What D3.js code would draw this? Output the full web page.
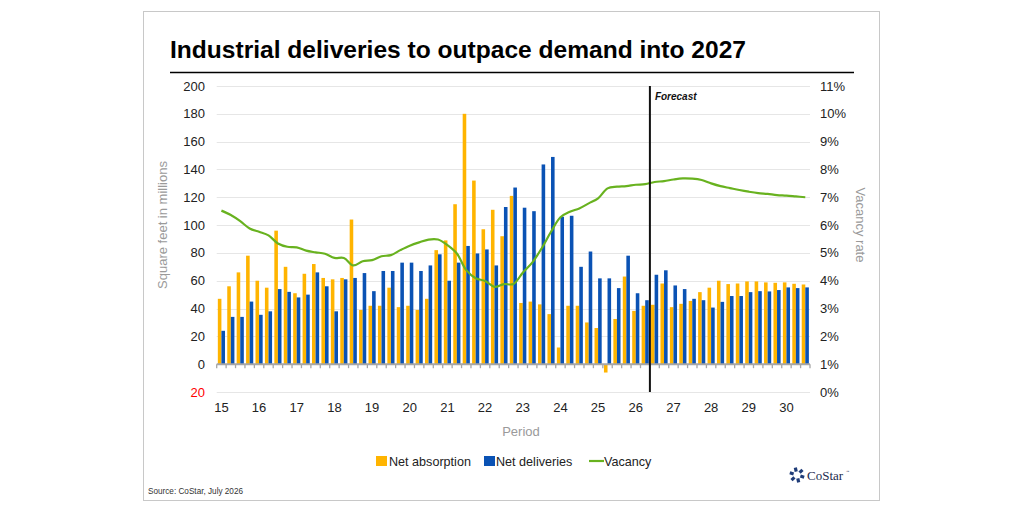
<!DOCTYPE html>
<html>
<head>
<meta charset="utf-8">
<style>
  body { margin: 0; background: #fff; }
  svg { font-family: "Liberation Sans", Arial, sans-serif; }
</style>
</head>
<body>
<script src="https://cdn.jsdelivr.net/npm/d3@7"></script>
<script>
// quarters 2015 Q1 .. 2030 Q3
var years = d3.range(15, 31);
var quarters = [];
years.forEach(function(y) { [1, 2, 3, 4].forEach(function(q) { quarters.push(y + " Q" + q); }); });
quarters = quarters.slice(0, 63);

// net absorption, msf
var absorption = [47, 56, 66, 78, 60, 55, 96, 70, 51, 65, 72, 62, 61, 62, 104, 39,
  42, 42, 55, 41, 42, 39, 47, 82, 89, 115, 180, 132, 97, 111, 92, 121,
  44, 45, 43, 36, 12, 42, 42, 30, 26, -6, 32.5, 63, 38.3, 42, 42.7, 58,
  41, 43.4, 45.5, 51.8, 55, 60, 57.6, 58, 59.5, 59.5, 58.8, 58.5, 58.8, 57.8, 57.3];
// net deliveries, msf
var deliveries = [24, 34, 34, 45, 35.5, 38, 54, 52, 48, 50, 66, 56, 38, 61, 62, 65.5,
  52.5, 67, 67, 73, 73, 67, 71, 79, 60, 73, 85, 79.6, 82.5, 71, 113, 127,
  112.5, 110, 143.6, 149, 106, 106.7, 70, 81, 61.7, 61.7, 54.7, 78, 51, 46, 64.3, 67.5,
  56.6, 54, 47, 46, 40.7, 44.8, 49, 49, 51.8, 52.5, 52.3, 53.3, 55.2, 54.7, 55.2];
// vacancy rate, %
var vacancy = [6.52, 6.36, 6.14, 5.88, 5.76, 5.63, 5.34, 5.22, 5.2, 5.08, 5.02, 4.97, 4.82, 4.82, 4.55, 4.70,
  4.74, 4.88, 4.92, 5.1, 5.26, 5.38, 5.48, 5.48, 5.28, 4.98, 4.38, 4.09, 3.99, 3.78, 3.88, 3.88,
  4.29, 4.65, 5.16, 5.76, 6.28, 6.48, 6.6, 6.78, 6.96, 7.32, 7.38, 7.4, 7.45, 7.47, 7.55, 7.58,
  7.64, 7.68, 7.67, 7.62, 7.5, 7.4, 7.33, 7.26, 7.2, 7.15, 7.12, 7.08, 7.06, 7.03, 7.0];

var leftTicks = [200, 180, 160, 140, 120, 100, 80, 60, 40, 20, 0, -20];
var rightTicks = [0, 1, 2, 3, 4, 5, 6, 7, 8, 9, 10, 11];
var forecastStart = "26 Q3";

var width = 1024, height = 512;
var svg = d3.select("body").append("svg")
    .attr("width", width)
    .attr("height", height);

// frame
svg.append("rect")
    .attr("x", 143.5).attr("y", 11.5)
    .attr("width", 736).attr("height", 489)
    .attr("fill", "#fff").attr("stroke", "#c8c8c8");

// title
svg.append("text")
    .attr("x", 170).attr("y", 58)
    .attr("font-size", 24).attr("font-weight", "bold").attr("fill", "#000")
    .attr("textLength", 576).attr("lengthAdjust", "spacingAndGlyphs")
    .text("Industrial deliveries to outpace demand into 2027");
svg.append("line")
    .attr("x1", 170).attr("x2", 854).attr("y1", 72.5).attr("y2", 72.5)
    .attr("stroke", "#000").attr("stroke-width", 1.5);

var x = d3.scaleBand().domain(quarters).range([216.7, 810]).paddingInner(0.24).paddingOuter(0.12);
var xs = d3.scaleBand().domain(["abs", "del"]).range([0, x.bandwidth()]);
var yL = d3.scaleLinear().domain([-20, 200]).range([392, 86]);
var yR = d3.scaleLinear().domain([0, 11]).range([392, 86]);

// gridlines
svg.append("g").selectAll("line").data(leftTicks.filter(function(d) { return d !== 0; }))
  .join("line")
    .attr("x1", 216.7).attr("x2", 810)
    .attr("y1", function(d) { return Math.round(yL(d)) + 0.5; })
    .attr("y2", function(d) { return Math.round(yL(d)) + 0.5; })
    .attr("stroke", "#e6e6e6").attr("stroke-width", 1.2);

// left tick labels
svg.append("g").selectAll("text").data(leftTicks).join("text")
    .attr("x", 205).attr("y", function(d) { return yL(d); })
    .attr("dy", "0.35em").attr("text-anchor", "end")
    .attr("font-size", 13)
    .attr("fill", function(d) { return d < 0 ? "#ff0000" : "#222"; })
    .text(function(d) { return Math.abs(d); });

// right tick labels
svg.append("g").selectAll("text").data(rightTicks).join("text")
    .attr("x", 820).attr("y", function(d) { return yR(d); })
    .attr("dy", "0.35em").attr("text-anchor", "start")
    .attr("font-size", 13).attr("fill", "#222")
    .text(function(d) { return d + "%"; });

// axis titles
svg.append("text")
    .attr("transform", "translate(167,225) rotate(-90)")
    .attr("text-anchor", "middle").attr("font-size", 13).attr("fill", "#9a9a9a")
    .text("Square feet in millions");
svg.append("text")
    .attr("transform", "translate(856,225) rotate(90)")
    .attr("text-anchor", "middle").attr("font-size", 13).attr("fill", "#9a9a9a")
    .text("Vacancy rate");
svg.append("text")
    .attr("x", 521).attr("y", 436)
    .attr("text-anchor", "middle").attr("font-size", 13).attr("fill", "#9a9a9a")
    .text("Period");

// bars
var rows = quarters.map(function(q, i) {
  return { q: q, abs: absorption[i], del: deliveries[i], vac: vacancy[i] };
});
var colors = { abs: "#ffb400", del: "#0a52b4" };
var bars = svg.append("g");
["abs", "del"].forEach(function(k) {
  bars.selectAll("rect." + k).data(rows).join("rect")
      .attr("class", k)
      .attr("x", function(d) { return x(d.q) + xs(k); })
      .attr("width", xs.bandwidth())
      .attr("y", function(d) { return yL(Math.max(0, d[k])); })
      .attr("height", function(d) { return Math.abs(yL(d[k]) - yL(0)); })
      .attr("fill", colors[k]);
});

// x axis baseline and ticks
var step = (810 - 216.7) / quarters.length;
var xa = svg.append("g");
xa.append("line")
    .attr("x1", 216.7).attr("x2", 810).attr("y1", yL(0)).attr("y2", yL(0))
    .attr("stroke", "#a6a6a6").attr("stroke-width", 2);
xa.selectAll("line.tk").data(d3.range(quarters.length + 1)).join("line")
    .attr("class", "tk")
    .attr("x1", function(i) { return 216.7 + i * step; })
    .attr("x2", function(i) { return 216.7 + i * step; })
    .attr("y1", yL(0)).attr("y2", yL(0) + 4)
    .attr("stroke", "#a6a6a6").attr("stroke-width", 1.3);
xa.selectAll("text").data(quarters.filter(function(q) { return /Q1$/.test(q); })).join("text")
    .attr("x", function(d) { return x(d) + x.bandwidth() / 2; })
    .attr("y", 412)
    .attr("text-anchor", "middle").attr("font-size", 13).attr("fill", "#222")
    .text(function(d) { return d.split(" ")[0]; });

// vacancy line
var line = d3.line()
    .x(function(d) { return x(d.q) + x.bandwidth() / 2; })
    .y(function(d) { return yR(d.vac); })
    .curve(d3.curveCatmullRom.alpha(0.5));
svg.append("path").datum(rows)
    .attr("d", line)
    .attr("fill", "none").attr("stroke", "#68b21f").attr("stroke-width", 2.2);

// forecast marker
var fx = x(forecastStart) - x.step() * x.paddingInner() / 2;
svg.append("line")
    .attr("x1", fx).attr("x2", fx).attr("y1", 86).attr("y2", 392)
    .attr("stroke", "#111").attr("stroke-width", 2);
svg.append("text")
    .attr("x", fx + 5).attr("y", 100)
    .attr("font-size", 10).attr("font-weight", "bold").attr("font-style", "italic")
    .attr("fill", "#111")
    .text("Forecast");

// legend
var legend = svg.append("g").attr("font-size", 12.6).attr("fill", "#222");
legend.append("rect").attr("x", 376).attr("y", 456).attr("width", 11).attr("height", 10).attr("fill", colors.abs);
legend.append("text").attr("x", 389).attr("y", 465.5).text("Net absorption");
legend.append("rect").attr("x", 484).attr("y", 456).attr("width", 11).attr("height", 10).attr("fill", colors.del);
legend.append("text").attr("x", 496).attr("y", 465.5).text("Net deliveries");
legend.append("line").attr("x1", 589).attr("x2", 604).attr("y1", 461).attr("y2", 461)
    .attr("stroke", "#68b21f").attr("stroke-width", 2.2);
legend.append("text").attr("x", 604).attr("y", 465.5).text("Vacancy");

// source
svg.append("text")
    .attr("x", 148).attr("y", 494)
    .attr("font-size", 9).attr("fill", "#333")
    .attr("textLength", 95).attr("lengthAdjust", "spacingAndGlyphs")
    .text("Source: CoStar, July 2026");

// logo
var logo = svg.append("g").attr("transform", "translate(797,475)");
d3.range(6).forEach(function(i) {
  var a = i * 60 + 17;
  logo.append("rect")
      .attr("x", -2).attr("y", -1.6).attr("width", 4).attr("height", 3.2)
      .attr("fill", "#1f3c78")
      .attr("transform", "rotate(" + a + ") translate(5.5,0)");
});
logo.append("text")
    .attr("x", 10).attr("y", 4.5)
    .style("font-family", "'Liberation Serif', 'DejaVu Serif', serif")
    .attr("font-size", 13)
    .attr("fill", "#1b2a4e")
    .text("CoStar");
logo.append("text")
    .attr("x", 49).attr("y", -2)
    .attr("font-size", 3.5).attr("fill", "#1b2a4e")
    .text("™");
</script>
</body>
</html>
